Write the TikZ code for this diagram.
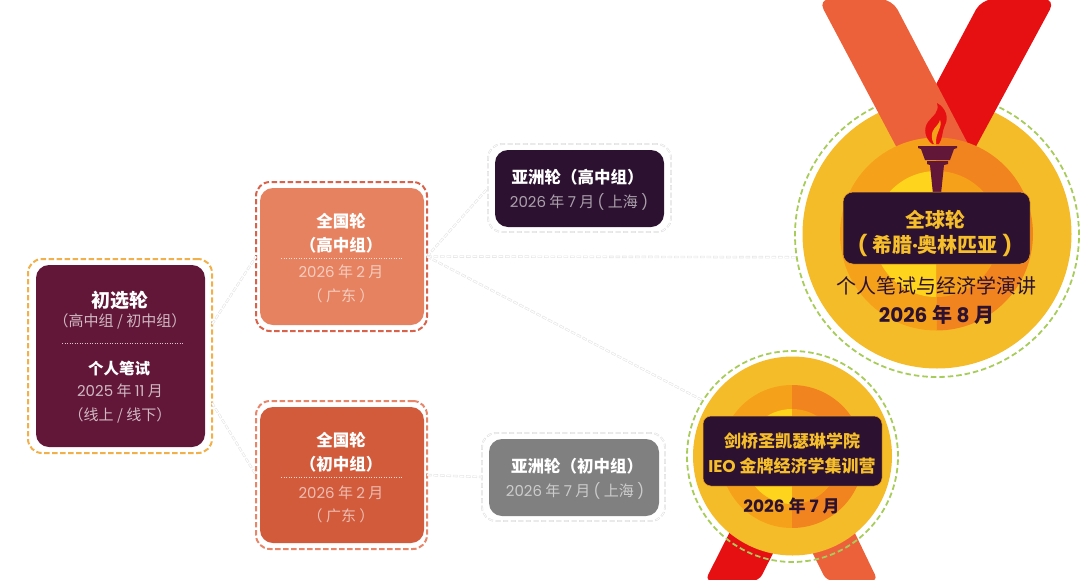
\documentclass[tikz,border=0pt]{standalone}
\usepackage{fontspec}
\setmainfont{Noto Sans CJK SC}
\newfontfamily\latf{Poppins}
\definecolor{plum}{HTML}{621738}
\definecolor{darkplum}{HTML}{2C1230}
\definecolor{gold}{HTML}{F5BC2A}
\definecolor{midL}{HTML}{F5A11A}
\definecolor{midR}{HTML}{F2841F}
\definecolor{yel}{HTML}{FFD41C}
\definecolor{ribO}{HTML}{EC613A}
\definecolor{ribR}{HTML}{E61013}
\definecolor{ringG}{HTML}{A8CC5A}
\definecolor{natHc}{HTML}{E68260}
\definecolor{natLc}{HTML}{D25B3C}
\definecolor{frameS}{HTML}{F2B04A}
\definecolor{frameH}{HTML}{D9624A}
\definecolor{frameL}{HTML}{E8866A}
\definecolor{goldtxt}{HTML}{F5BE2A}
\newcommand{\fs}[1]{\fontsize{#1}{#1}\selectfont}
\newcommand{\dg}[1]{{\latf #1}}
\tikzset{
  x=1pt,y=-1pt,
  fillbox/.style={rounded corners=13pt,draw=none,inner sep=0pt,outer sep=0pt},
  labelbox/.style={rounded corners=10pt,draw=midL,line width=.5pt,fill=darkplum,inner sep=0pt,outer sep=0pt},
  dashbox/.style={rounded corners=14pt,line width=2pt,dash pattern=on 5.4pt off 2.6pt,inner sep=0pt,outer sep=0pt},
  greybox/.style={dashbox,draw=black!12,line width=1.9pt,dash pattern=on 5pt off 2.6pt},
  greyin/.style={dashbox,draw=white,line width=.8pt,dash pattern=on 4pt off 3.6pt,dash phase=7.1pt},
  ring/.style={circle,draw=ringG,line width=1.8pt,dash pattern=on 5.5pt off 3pt,inner sep=0pt,outer sep=0pt},
  txt/.style={inner sep=0pt,align=center,anchor=center},
  link/.style={draw=black!10,line width=2.4pt,dash pattern=on 4.6pt off 1.9pt},
  linkin/.style={draw=white,line width=1.2pt,dash pattern=on 3.6pt off 2.9pt,dash phase=6pt},
  sep/.style={line width=.5pt,dotted},
}
\begin{document}
\begin{tikzpicture}
\useasboundingbox (0,0) rectangle (1080,579);
% big medal
\node[ring,minimum size=284pt] (goldring) at (937,235) {};
\fill[gold] (937,234) circle[radius=134.5];
\fill[ribR,rounded corners=12pt] (981.6,-1) -- (1055.6,-1) -- (966,165) -- (893,165) -- cycle;
\fill[ribO,rounded corners=12pt] (818,-1) -- (892,-1) -- (979,165) -- (906,165) -- cycle;
\begin{scope}
\clip (936.5,100) rectangle (830,370);
\fill[midL] (936.5,234) circle[radius=96.5];
\fill[yel] (936.5,234) circle[radius=63];
\end{scope}
\begin{scope}
\clip (936.5,100) rectangle (1040,370);
\fill[midR] (936.5,234) circle[radius=96.5];
\fill[midL] (936.5,234) circle[radius=63];
\end{scope}
% flame
\fill[ribR] (937,103) .. controls (946,108) and (949,118) .. (945,125) .. controls (942,131) and (943,138) .. (939,144)
  -- (932,144) .. controls (925,138) and (923,129) .. (928,122) .. controls (932,116) and (940,113) .. (937,103) -- cycle;
\fill[midL] (940,120) .. controls (943,127) and (935,133) .. (936,144) -- (934,144) .. controls (931,139) and (931,133) .. (934,129) .. controls (936,126) and (939,124) .. (940,120) -- cycle;
% torch
\fill[plum] (918,146) -- (957,146) -- (957,148) -- (954,149) -- (950,160) -- (925,160) -- (921,149) -- (918,148) -- cycle;
\fill[plum] (927,161) -- (948,161) -- (948,164) -- (944,165) -- (941,194) -- (933,194) -- (930,165) -- (927,164) -- cycle;
% small medal
\fill[ribR,rounded corners=7pt] (746,500) -- (705,581) -- (759,581) -- (800,500) -- cycle;
\fill[ribO,rounded corners=7pt] (786,500) -- (826.5,581) -- (878,581) -- (839,500) -- cycle;
\fill[gold] (792.5,456) circle[radius=99.5];
\begin{scope}
\clip (792,370) rectangle (700,540);
\fill[midL] (792,456.5) circle[radius=71.5];
\fill[yel] (792,456.5) circle[radius=47.5];
\end{scope}
\begin{scope}
\clip (792,370) rectangle (880,540);
\fill[midR] (792,456.5) circle[radius=71.5];
\fill[midL] (792,456.5) circle[radius=47.5];
\end{scope}
\node[ring,minimum size=211pt] (silverring) at (792.5,456.5) {};
% dashed frames
\node[dashbox,draw=frameS,minimum width=184pt,minimum height=194pt] (sel) at (120,356) {};
\node[dashbox,draw=frameH,minimum width=171pt,minimum height=149pt] (natH) at (341.5,256.5) {};
\node[dashbox,draw=frameL,minimum width=171pt,minimum height=148pt] (natL) at (341.5,475) {};
\node[greybox,minimum width=183pt,minimum height=88pt] (asiaH) at (579.5,188) {};
\node[greyin,minimum width=183pt,minimum height=88pt] (asiaHin) at (579.5,188) {};
\node[greybox,minimum width=183pt,minimum height=88pt] (asiaL) at (573.5,477) {};
\node[greyin,minimum width=183pt,minimum height=88pt] (asiaLin) at (573.5,477) {};
% connectors
\foreach \s/\t in {sel.19.7/natH.west,sel.-27/natL.west,natH.east/asiaH.west,natH.east/goldring.189.3,natH.east/silverring.148,natL.east/asiaL.west}{
  \draw[link] (\s) -- (\t);
  \draw[linkin] (\s) -- (\t);
}
% filled boxes
\node[fillbox,fill=plum,minimum width=169pt,minimum height=182pt] (selF) at (120.5,356) {};
\node[fillbox,fill=natHc,minimum width=164pt,minimum height=137pt] (natHF) at (342,256.5) {};
\node[fillbox,fill=natLc,minimum width=164pt,minimum height=136pt] (natLF) at (342,475) {};
\node[fillbox,fill=darkplum,minimum width=169pt,minimum height=77pt] (asiaHF) at (579.5,188.5) {};
\node[fillbox,fill=black!50,minimum width=170pt,minimum height=77pt] (asiaLF) at (574,477.5) {};
\node[labelbox,minimum width=187pt,minimum height=72pt] (goldL) at (936.5,228) {};
\node[labelbox,rounded corners=8pt,minimum width=179pt,minimum height=70pt] (silverL) at (792.5,451) {};
% separators
\draw[sep,white!75!plum] (62,343) -- (183,343);
\draw[sep,white!75!natHc] (281,258) -- (402,258);
\draw[sep,white!75!natLc] (281,477) -- (402,477);
% text: first round
\node[txt,text=white,font=\fs{19}\bfseries] (t1) at (119.5,300) {初选轮};
\node[txt,text=white!70!plum,font=\fs{15}] (t2) at (120,321) {（高中组 / 初中组）};
\node[txt,text=white,font=\fs{15.5}\bfseries] (t3) at (119,369) {个人笔试};
\node[txt,text=white!70!plum,font=\fs{15}] (t4) at (120,391) {\dg{2025} 年 \dg{11} 月};
\node[txt,text=white!70!plum,font=\fs{15}] (t5) at (120,415) {（线上 / 线下）};
% text: national
\node[txt,text=white,font=\fs{16.5}\bfseries] (t6) at (341,221) {全国轮};
\node[txt,text=white,font=\fs{16.5}\bfseries] (t7) at (341,245) {（高中组）};
\node[txt,text=white!60!natHc,font=\fs{15}] (t8) at (341,272) {\dg{2026} 年 \dg{2} 月};
\node[txt,text=white!60!natHc,font=\fs{15}] (t9) at (341,296) {（ 广东 ）};
\node[txt,text=white,font=\fs{16.5}\bfseries] (t10) at (341,440) {全国轮};
\node[txt,text=white,font=\fs{16.5}\bfseries] (t11) at (341,464) {（初中组）};
\node[txt,text=white!60!natLc,font=\fs{15}] (t12) at (341,493) {\dg{2026} 年 \dg{2} 月};
\node[txt,text=white!60!natLc,font=\fs{15}] (t13) at (341,516) {（ 广东 ）};
% text: asia
\node[txt,text=white,font=\fs{16.5}\bfseries] (t14) at (577.5,177) {亚洲轮（高中组）};
\node[txt,text=white!60!darkplum,font=\fs{15}] (t15) at (579,202) {\dg{2026} 年 \dg{7} 月 \dg{(} 上海 \dg{)}};
\node[txt,text=white,font=\fs{16.5}\bfseries] (t16) at (577,466) {亚洲轮（初中组）};
\node[txt,text=white!60!black!50,font=\fs{15}] (t17) at (575,491) {\dg{2026} 年 \dg{7} 月 \dg{(} 上海 \dg{)}};
% text: global
\node[txt,text=goldtxt,font=\fs{20}\bfseries] (t18) at (935.5,220) {全球轮};
\node[txt,text=goldtxt,font=\fs{20}\bfseries] (t19) at (935,245) {\dg{(} 希腊\dg{·}奥林匹亚 \dg{)}};
\node[txt,text=darkplum,font=\fs{20}] (t20) at (936,286) {个人笔试与经济学演讲};
\node[txt,text=darkplum,font=\fs{20}\bfseries] (t21) at (936.5,315) {\dg{2026} 年 \dg{8} 月};
% text: camp
\node[txt,text=goldtxt,font=\fs{17}\bfseries] (t22) at (792,441) {剑桥圣凯瑟琳学院};
\node[txt,text=goldtxt,font=\fs{17}\bfseries] (t23) at (792,466) {\dg{IEO} 金牌经济学集训营};
\node[txt,text=darkplum,font=\fs{17}\bfseries] (t24) at (791.5,506) {\dg{2026} 年 \dg{7} 月};
\end{tikzpicture}
\end{document}
